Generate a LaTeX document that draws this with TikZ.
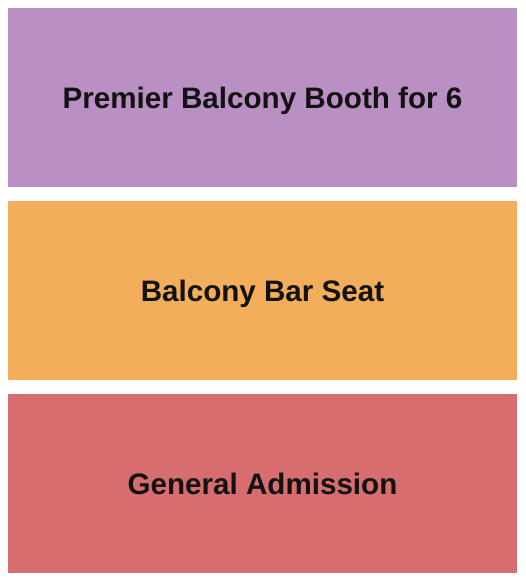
\documentclass[tikz,border=0pt]{standalone}
\usepackage{fontspec}
\setmainfont{Liberation Sans}
\usepackage{xcolor}
\usetikzlibrary{positioning}

\definecolor{boothcol}{HTML}{BA8FC4}
\definecolor{barcol}{HTML}{F2AE5A}
\definecolor{gacol}{HTML}{D76D6F}

\begin{document}
\begin{tikzpicture}[x=1pt,y=1pt,
    zone/.style={minimum width=509pt, minimum height=179pt, inner sep=0pt,
        text height=22pt, text depth=0pt,
        font=\fontsize{29.6}{32}\selectfont\bfseries, text=black!93},
    node distance=13.5pt]
    \useasboundingbox (0,0) rectangle (525,-580);

    % Balcony sections, top to bottom
    \node[zone, fill=boothcol] (booth) at (262.5,-97.5) {Premier Balcony Booth for 6};
    \node[zone, fill=barcol, below=of booth] (bar) {Balcony Bar Seat};
    \node[zone, fill=gacol, below=of bar] (ga) {General Admission};
\end{tikzpicture}
\end{document}
